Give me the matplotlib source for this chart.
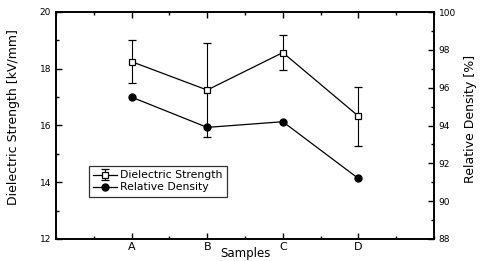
import numpy as np
import matplotlib
matplotlib.use("Agg")
import matplotlib.pyplot as plt
from matplotlib.ticker import MultipleLocator

# Daten
samples = ["A", "B", "C", "D"]
dielectric = [18.25, 17.25, 18.57, 16.33]
dielectric_err = [0.75, 1.65, 0.62, 1.04]
density = [95.5, 93.9, 94.2, 91.2]

plt.rcParams['font.family'] = ['DejaVu Sans']

fig = plt.figure(figsize=(4.83, 2.61), dpi=100)
ax = fig.add_axes([56/483, 1-239/261, 378/483, 227/261])
ax2 = ax.twinx()

x = np.arange(1, len(samples)+1)

l1 = ax.errorbar(x, dielectric, yerr=dielectric_err, color='black', lw=0.9,
                 marker='s', ms=5, mfc='white', mec='black', mew=0.9,
                 elinewidth=0.8, capsize=3, capthick=0.8,
                 label='Dielectric Strength')
l2, = ax2.plot(x, density, color='black', lw=0.9, marker='o', ms=5,
               label='Relative Density')

ax.set_xlim(0, 5)
ax.set_ylim(12, 20)
ax2.set_ylim(88, 100)
ax.set_xticks(x)
ax.set_xticklabels(samples)
ax.xaxis.set_minor_locator(MultipleLocator(0.5))
ax.yaxis.set_major_locator(MultipleLocator(2))
ax.yaxis.set_minor_locator(MultipleLocator(1))
ax2.yaxis.set_major_locator(MultipleLocator(2))
ax2.yaxis.set_minor_locator(MultipleLocator(1))

ax.tick_params(which='both', direction='in', top=True, labelsize=6.5, width=1)
ax.tick_params(which='major', length=4)
ax.tick_params(which='minor', length=2)
ax2.tick_params(which='both', direction='in', labelsize=6.5, width=1)
ax2.tick_params(which='major', length=4)
ax2.tick_params(which='minor', length=2)
ax.tick_params(axis='x', labelsize=8, pad=2)

for a in (ax, ax2):
    for s in a.spines.values():
        s.set_linewidth(1.2)

ax.set_xlabel("Samples", fontsize=8.5)
ax.xaxis.set_label_coords(0.5, -0.035)
ax.set_ylabel("Dielectric Strength [kV/mm]", fontsize=9)
ax.yaxis.set_label_coords(-0.095, 0.535)
ax2.set_ylabel("Relative Density [%]", fontsize=9)
ax2.yaxis.set_label_coords(1.08, 0.53)

leg = ax.legend([l1, l2], ['Dielectric Strength', 'Relative Density'],
                loc='upper left', bbox_to_anchor=(33/378, 1-154/227),
                fontsize=7.8, frameon=True, fancybox=False, edgecolor='black',
                handlelength=2.2, handletextpad=0.3, borderpad=0.4,
                labelspacing=0.2, borderaxespad=0)
leg.get_frame().set_linewidth(0.9)

fig.savefig("out.png", dpi=100)
